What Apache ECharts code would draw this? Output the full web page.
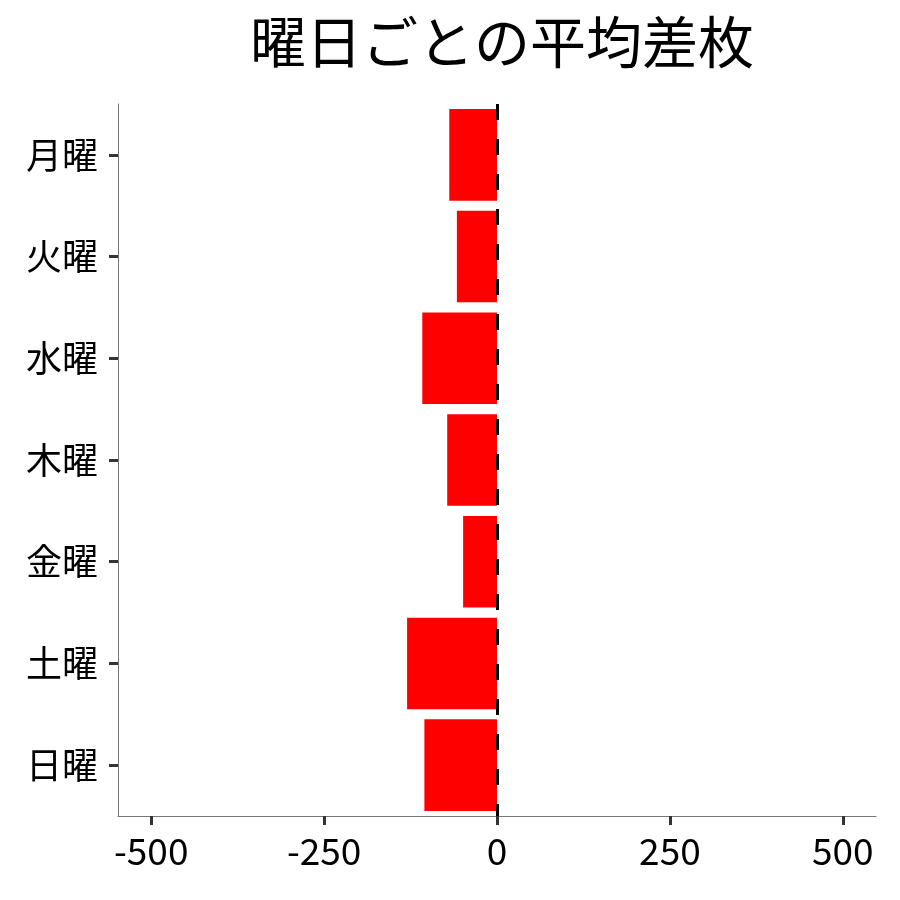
<!DOCTYPE html>
<html><head><meta charset="utf-8">
<script src="https://cdn.jsdelivr.net/npm/echarts@6/dist/echarts.min.js"></script>
<style>html,body{margin:0;padding:0;background:#fff}#c{width:900px;height:900px}</style>
</head><body><div id="c"></div>
<script>
const titleText = '曜日ごとの平均差枚';
const days = ['月曜','火曜','水曜','木曜','金曜','土曜','日曜'];
const avgDiff = [-69, -58, -108, -72, -49, -130, -105];
const xTicks = [-500, -250, 0, 250, 500];
const xMin = -548, xMax = 548;
const refLine = 0;

const chart = echarts.init(document.getElementById('c'));
const font = '"Noto Sans CJK JP", "Noto Sans", sans-serif';
chart.setOption({
  animation: false,
  title: {
    text: titleText, left: 497, textAlign: 'center', top: 9,
    textStyle: {fontFamily: font, fontSize: 56, fontWeight: 'normal', color: '#000'}
  },
  grid: {left: 118, right: 24, top: 104, bottom: 84, containLabel: false},
  xAxis: {
    type: 'value', min: xMin, max: xMax,
    axisLine: {show: true, onZero: false, lineStyle: {color: '#777', width: 1}},
    axisTick: {show: true, inside: false, customValues: xTicks, length: 9, lineStyle: {color: '#333', width: 3}},
    axisLabel: {customValues: xTicks, margin: 16, fontFamily: font, fontSize: 37, color: '#000'},
    splitLine: {show: false}
  },
  yAxis: {
    type: 'category', data: days, inverse: true,
    axisLine: {show: true, onZero: false, lineStyle: {color: '#777', width: 1}},
    axisTick: {show: true, alignWithLabel: true, length: 9, lineStyle: {color: '#333', width: 3}},
    axisLabel: {margin: 20, fontFamily: font, fontSize: 36, color: '#000'},
    splitLine: {show: false}
  },
  series: [{
    type: 'bar', data: avgDiff, barCategoryGap: '10%',
    itemStyle: {color: '#ff0000'},
    markLine: {
      silent: true, symbol: 'none', label: {show: false},
      lineStyle: {color: '#000', width: 3, type: [16, 19]},
      data: [{xAxis: refLine}]
    }
  }]
});
</script></body></html>
